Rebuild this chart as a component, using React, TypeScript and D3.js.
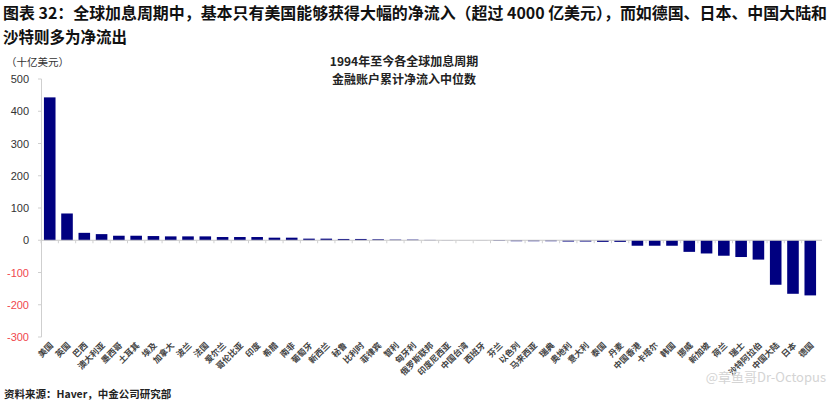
import React from "react";
import * as d3 from "d3";

const categories = [
  "美国", "英国", "巴西", "澳大利亚", "墨西哥", "土耳其", "埃及", "加拿大", "波兰", "法国",
  "爱尔兰", "哥伦比亚", "印度", "希腊", "南非", "葡萄牙", "新西兰", "秘鲁", "比利时", "菲律宾",
  "智利", "匈牙利", "俄罗斯联邦", "印度尼西亚", "中国台湾", "西班牙", "芬兰", "以色列", "马来西亚", "瑞典",
  "奥地利", "意大利", "泰国", "丹麦", "中国香港", "卡塔尔", "韩国", "挪威", "新加坡", "荷兰",
  "瑞士", "沙特阿拉伯", "中国大陆", "日本", "德国",
];

const values = [
  443, 83, 23, 19, 14, 14, 13, 12, 12, 12,
  10, 10, 10, 8, 8, 5, 5, 4, 4, 3,
  2, 2, 1, 0.5, 0.3, 0.3, -2, -3, -3, -3,
  -4, -4, -5, -5, -17, -17, -17, -36, -41, -48,
  -52, -60, -138, -166, -171,
];

const yTicks = [500, 400, 300, 200, 100, 0, -100, -200, -300];

const titleLine1 = "图表 32：全球加息周期中，基本只有美国能够获得大幅的净流入（超过 4000 亿美元），而如德国、日本、中国大陆和";
const titleLine2 = "沙特则多为净流出";
const unitLabel = "（十亿美元）";
const chartTitle1 = "1994年至今各全球加息周期";
const chartTitle2 = "金融账户累计净流入中位数";
const sourceText = "资料来源：Haver，中金公司研究部";
const watermark = "@章鱼哥Dr-Octopus";

const W = 831;
const H = 407;

export default function App() {
  const x = d3.scaleBand<string>().domain(categories).range([41, 819]).paddingInner(0.33).paddingOuter(0.17);
  const y = d3.scaleLinear().domain([-300, 500]).range([337, 79]);
  const cjk = "'Noto Sans CJK SC', 'Liberation Sans', sans-serif";
  const num = "'Liberation Sans', Arial, sans-serif";
  return (
    <svg width={W} height={H} style={{ position: "absolute", left: 0, top: 0, background: "#fff" }}>
      <rect x={0} y={0} width={W} height={H} fill="#fff" />
      <text x={3} y={19} fontFamily={cjk} fontWeight={700} fontSize={16} fill="#111" textLength={824} lengthAdjust="spacingAndGlyphs">{titleLine1}</text>
      <text x={3} y={43} fontFamily={cjk} fontWeight={700} fontSize={16} fill="#111" textLength={124} lengthAdjust="spacingAndGlyphs">{titleLine2}</text>
      <text x={6} y={66} fontFamily={cjk} fontSize={10.5} fill="#333">{unitLabel}</text>
      <text x={404} y={66} textAnchor="middle" fontFamily={cjk} fontWeight={700} fontSize={12} fill="#222">{chartTitle1}</text>
      <text x={404} y={84} textAnchor="middle" fontFamily={cjk} fontWeight={700} fontSize={12} fill="#222">{chartTitle2}</text>
      {/* y axis */}
      <line x1={41.5} x2={41.5} y1={y(500)} y2={y(-300)} stroke="#cfcfcf" strokeWidth={1} />
      {yTicks.map((t) => (
        <g key={t}>
          <line x1={38} x2={41.5} y1={y(t)} y2={y(t)} stroke="#cfcfcf" />
          <text x={29} y={y(t) + 4} textAnchor="end" fontFamily={num} fontSize={11} fill={t < 0 ? "#f0484e" : "#333"}>{t}</text>
        </g>
      ))}
      {/* bars */}
      {categories.map((c, i) => {
        const v = values[i];
        const y0 = y(0);
        const yv = y(v);
        return (
          <rect key={c} x={x(c)} width={x.bandwidth()} y={Math.min(y0, yv)} height={Math.abs(yv - y0)} fill="#000080" />
        );
      })}
      {/* zero line */}
      <line x1={41.5} x2={822} y1={y(0)} y2={y(0)} stroke="#c8c8c8" strokeWidth={1} />
      {categories.map((c) => {
        const bx = (x(c) as number) - x.step() * x.paddingInner() / 2;
        return <line key={"t" + c} x1={bx} x2={bx} y1={y(0)} y2={y(0) + 3} stroke="#d0d0d0" />;
      })}
      {/* x labels */}
      {categories.map((c) => {
        const cx = (x(c) as number) + x.bandwidth() / 2 + 4;
        const cy = 346;
        return (
          <text key={"l" + c} x={cx} y={cy} transform={`rotate(-45 ${cx} ${cy})`} textAnchor="end" fontFamily={cjk} fontWeight={700} fontSize={8.5} fill="#444">{c}</text>
        );
      })}
      <text x={4} y={398} fontFamily={cjk} fontWeight={700} fontSize={10.5} fill="#222">{sourceText}</text>
      <text x={826} y={382} textAnchor="end" fontFamily={cjk} fontSize={13} fill="#d4d4d4">{watermark}</text>
    </svg>
  );
}
